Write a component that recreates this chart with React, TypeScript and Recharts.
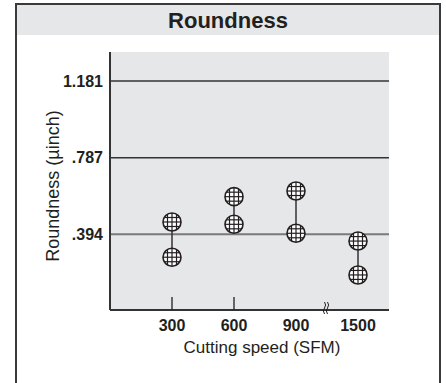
import React from 'react';
import {
  ComposedChart,
  Scatter,
  XAxis,
  YAxis,
  CartesianGrid,
  ReferenceLine,
  ReferenceDot,
} from 'recharts';

const categories = ['300', '600', '900', '1500'];
const upperValues = [0.457, 0.587, 0.616, 0.359];
const lowerValues = [0.276, 0.445, 0.399, 0.185];
const yTickValues = [0.394, 0.787, 1.181];
const yTickLabels = ['.394', '.787', '1.181'];
const categoryPositions = [1, 2, 3, 4];
const tickedCategories = [1, 2];
const breakPosition = 3.5;
const title = 'Roundness';
const xTitle = 'Cutting speed (SFM)';
const yTitle = 'Roundness (µinch)';

const FONT = '"Liberation Sans", Arial, Helvetica, sans-serif';
const INK = '#231f20';
const Y_MIN = 0.005;
const Y_MAX = 1.33;

const seriesData = categoryPositions.map((x, i) => [
  { x, y: lowerValues[i] },
  { x, y: upperValues[i] },
]);

const Marker = (props: any) => {
  const { cx, cy } = props;
  if (cx == null || cy == null) return null;
  const r = 9;
  const offs = [-4.5, 0, 4.5];
  return (
    <g>
      <circle cx={cx} cy={cy} r={r} fill="#ffffff" />
      {offs.map((d) => {
        const h = Math.sqrt(r * r - d * d);
        return (
          <g key={d}>
            <line x1={cx + d} x2={cx + d} y1={cy - h} y2={cy + h} stroke={INK} strokeWidth={1.2} />
            <line y1={cy + d} y2={cy + d} x1={cx - h} x2={cx + h} stroke={INK} strokeWidth={1.2} />
          </g>
        );
      })}
      <circle cx={cx} cy={cy} r={r} fill="none" stroke={INK} strokeWidth={1.6} />
    </g>
  );
};

const XTick = (props: any) => {
  const { x, y, payload } = props;
  const idx = categoryPositions.indexOf(payload.value);
  return (
    <g>
      {tickedCategories.includes(payload.value) && (
        <line x1={x} x2={x} y1={y} y2={y - 13} stroke={INK} strokeWidth={1.3} />
      )}
      <text x={x} y={y + 21} textAnchor="middle" fontFamily={FONT} fontWeight="bold" fontSize={16} fill={INK}>
        {idx >= 0 ? categories[idx] : ''}
      </text>
    </g>
  );
};

const YTick = (props: any) => {
  const { x, y, payload } = props;
  const idx = yTickValues.indexOf(payload.value);
  return (
    <text x={x} y={y + 5.5} textAnchor="end" fontFamily={FONT} fontWeight="bold" fontSize={16} fill={INK}>
      {idx >= 0 ? yTickLabels[idx] : ''}
    </text>
  );
};

const XTitle = (props: any) => {
  const vb = props.viewBox || { x: 110, y: 310, width: 279 };
  return (
    <text x={vb.x + 152} y={vb.y + 43} textAnchor="middle" fontFamily={FONT} fontSize={17} fill={INK}>
      {xTitle}
    </text>
  );
};

const YTitle = (props: any) => {
  const vb = props.viewBox || { x: 0, y: 52, width: 110, height: 258 };
  const cx = vb.x + 59;
  const cy = vb.y + 134;
  return (
    <text
      x={cx}
      y={cy}
      transform={`rotate(-90, ${cx}, ${cy})`}
      textAnchor="middle"
      fontFamily={FONT}
      fontSize={18}
      fill={INK}
    >
      {yTitle}
    </text>
  );
};

const BreakMark = (props: any) => {
  const { cx, cy } = props;
  if (cx == null || cy == null) return null;
  const wiggle = (ox: number) =>
    `M ${cx + ox - 1} ${cy - 8} q 2.2 3 0 6 q -2.2 3 0 6`;
  return (
    <g>
      <path d={wiggle(-1.5)} fill="none" stroke={INK} strokeWidth={1} />
      <path d={wiggle(1.5)} fill="none" stroke={INK} strokeWidth={1} />
    </g>
  );
};

export default function App() {
  return (
    <div style={{ position: 'absolute', left: 0, top: 0, width: 446, height: 383, background: '#ffffff', overflow: 'hidden' }}>
      <div
        style={{
          position: 'absolute',
          left: 15,
          top: 3,
          width: 422,
          height: 400,
          border: '2px solid #3a3a3a',
          boxSizing: 'content-box',
        }}
      />
      <div
        style={{
          position: 'absolute',
          left: 17,
          top: 5,
          width: 422,
          height: 30,
          background: '#e6e7e8',
          textAlign: 'center',
          fontFamily: FONT,
          fontWeight: 'bold',
          fontSize: 22,
          lineHeight: '31px',
          color: INK,
        }}
      >
        {title}
      </div>
      <div style={{ position: 'absolute', left: 0, top: 0 }}>
        <ComposedChart
          width={446}
          height={383}
          margin={{ top: 52, right: 57, bottom: 43, left: 0 }}
        >
          <CartesianGrid horizontal={false} vertical={false} fill="#e6e7e8" stroke="none" />
          <XAxis
            type="number"
            dataKey="x"
            domain={[0, 4.5]}
            ticks={categoryPositions}
            interval={0}
            allowDataOverflow
            height={30}
            tickLine={false}
            tickSize={0}
            tickMargin={0}
            axisLine={{ stroke: '#333333', strokeWidth: 2 }}
            tick={<XTick />}
            label={<XTitle />}
          />
          <YAxis
            type="number"
            dataKey="y"
            domain={[Y_MIN, Y_MAX]}
            ticks={yTickValues}
            interval={0}
            allowDataOverflow
            width={110}
            tickLine={false}
            tickSize={0}
            tickMargin={7}
            axisLine={{ stroke: '#333333', strokeWidth: 2 }}
            tick={<YTick />}
            label={<YTitle />}
          />
          <ReferenceLine y={yTickValues[2]} stroke="#333333" strokeWidth={1.3} />
          <ReferenceLine y={yTickValues[1]} stroke="#333333" strokeWidth={1.3} />
          <ReferenceLine y={yTickValues[0]} stroke="#7a7a7a" strokeWidth={2} />
          {seriesData.map((d, i) => (
            <Scatter
              key={categories[i]}
              data={d}
              dataKey="y"
              isAnimationActive={false}
              line={{ stroke: '#333333', strokeWidth: 1.5 }}
              lineType="joint"
              shape={<Marker />}
            />
          ))}
          <ReferenceDot x={breakPosition} y={Y_MIN} r={0} ifOverflow="visible" shape={<BreakMark />} />
        </ComposedChart>
      </div>
    </div>
  );
}
